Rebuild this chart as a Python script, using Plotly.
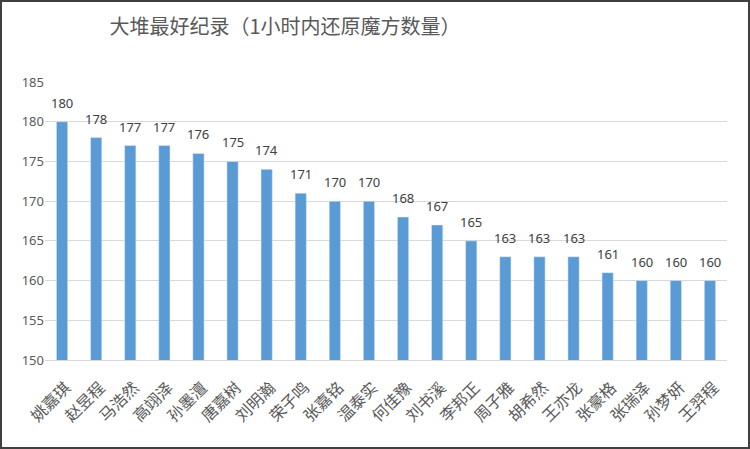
import plotly.graph_objects as go

# names and record counts (bars sorted descending)
names = ['姚嘉琪', '赵昱程', '马浩然', '高翊泽', '孙墨澶', '唐嘉树', '刘明瀚', '荣子鸣', '张嘉铭', '温泰实',
         '何佳豫', '刘书溪', '李邦正', '周子雅', '胡希然', '王亦龙', '张豪格', '张瑞泽', '孙梦妍', '王羿程']
counts = [180, 178, 177, 177, 176, 175, 174, 171, 170, 170,
          168, 167, 165, 163, 163, 163, 161, 160, 160, 160]
y_ticks = [150, 155, 160, 165, 170, 175, 180, 185]

W, H = 750, 449
ml, mr, mt, mb = 45, 23, 82, 89
pw, ph = W - ml - mr, H - mt - mb

fig = go.Figure()
fig.add_trace(go.Bar(
    x=names, y=counts,
    marker_color='#5b9bd5',
    hoverinfo='x+y',
))

# value labels above the bars
for n, c in zip(names, counts):
    fig.add_annotation(x=n, y=c, text=str(c), showarrow=False, yanchor='bottom', yshift=8,
                       font=dict(size=13, color='#404040', family='Noto Sans'))

fig.update_layout(
    width=W, height=H,
    margin=dict(l=ml, r=mr, t=mt, b=mb),
    paper_bgcolor='white', plot_bgcolor='white',
    bargap=0.67,
    showlegend=False,
    title=dict(text='大堆最好纪录（1小时内还原魔方数量）', x=0.38, xanchor='center',
               y=0.94, yanchor='middle',
               font=dict(size=20, color='#595959', family='Noto Sans CJK SC')),
    xaxis=dict(tickangle=-45, tickfont=dict(size=16, color='#595959', family='Noto Sans CJK SC'),
               ticklabelstandoff=11, ticklabelshift=4,
               showline=True, linecolor='#d9d9d9', ticks=''),
    yaxis=dict(range=[150, 185], tickvals=y_ticks, showgrid=True, gridcolor='#d9d9d9',
               tickfont=dict(size=13, color='#595959', family='Noto Sans'),
               zeroline=False, ticks=''),
)

# outer frame of the chart
fig.add_shape(type='rect', xref='paper', yref='paper',
              x0=-(ml - 1) / pw, x1=(W - ml - 1) / pw,
              y0=-(mb - 1) / ph, y1=(H - mb - 1) / ph,
              line=dict(color='#404040', width=2))

fig.write_html('out.html', config={'displayModeBar': False},
               post_script="document.body.style.margin='0';")
